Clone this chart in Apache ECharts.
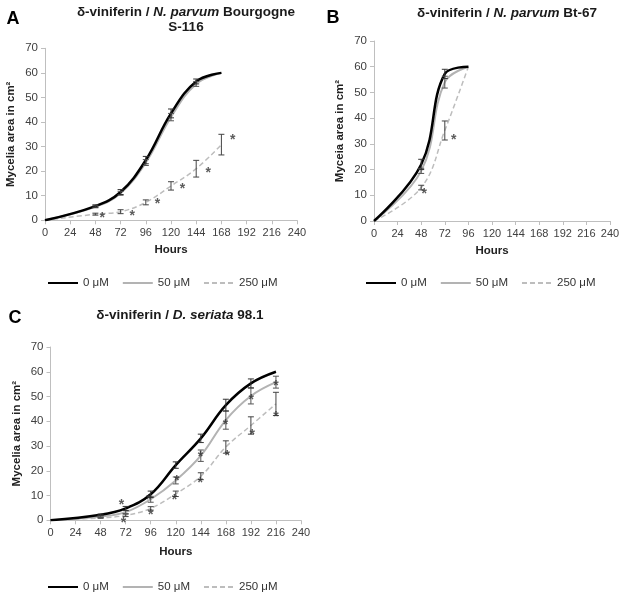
<!DOCTYPE html>
<html><head><meta charset="utf-8">
<script src="https://cdn.jsdelivr.net/npm/echarts@6/dist/echarts.min.js"></script>
<style>html,body{margin:0;padding:0;background:#fff}#c{width:634px;height:603px}</style>
</head><body><div id="c"></div>
<script>
// ---------- data ----------
const hoursTicks = [0,24,48,72,96,120,144,168,192,216,240];
const legendNames = ['0 μM','50 μM','250 μM'];

const hoursA = [0,48,72,96,120,144,168];
const a0   = [0,5.8,11.5,24.5,43.5,56.5,60];
const a50  = [0,5.5,11.0,23.5,42.0,55.5,60];
const a250 = [0,2.5,3.5,7.3,14.0,21.0,30.8];
const a0Err   = [0,0.5,1.0,1.5,1.8,1.0,0];
const a50Err  = [0,0.4,0.8,1.2,1.5,1.0,0];
const a250Err = [0,0.4,0.8,1.0,1.7,3.4,4.2];
const starA = [[54.6,1.9],[83,2.8],[107,7.6],[131,14.1],[155.5,20.5],[178.7,33.9]];

const hoursB = [0,48,72,96];
const b0   = [0,22.0,57.2,60];
const b50  = [0,19.5,54.0,60];
const b250 = [0,13.0,35.2,60];
const b0Err   = [0,2.0,1.8,0];
const b50Err  = [0,1.0,2.3,0];
const b250Err = [0,0.9,3.7,0];
const starB = [[51,11.8],[81,32.6]];

const hoursC = [0,48,72,96,120,144,168,192,216];
const c0   = [0,2.2,4.8,10.5,22.3,33.1,46.5,55.3,60];
const c50  = [0,1.5,3.3,8.5,16.1,26.1,40.5,50.2,55.8];
const c250 = [0,1.0,2.0,4.8,10.7,17.8,29.6,38.3,47.0];
const c0Err   = [0,0.3,0.8,1.3,1.3,1.7,2.4,1.8,0];
const c50Err  = [0,0.3,0.6,1.2,1.4,2.3,3.7,3.2,2.4];
const c250Err = [0,0.2,0.5,0.7,1.1,1.4,2.5,3.5,4.7];
const starC = [[46,-0.8],[68,7.3],[70,0.1],[94,9.3],[96,3.1],[121,17],[118.7,9.5],
               [143.6,26.9],[143.5,16.3],[167.7,39.8],[169.3,27.0],[192.2,49.9],[193.2,35.8],[216,55.3],[216,42.9]];

// ---------- helpers ----------
const FONT = 'Liberation Sans, Arial, sans-serif';
const axisCol = '#bfbfbf', labCol = '#404040';
function pairs(xs, ys){ return xs.map((x,i)=>[x,ys[i]]); }
function errData(xs, ys, es){ const o=[]; xs.forEach((x,i)=>{ if(es[i]>0) o.push([x, ys[i]-es[i], ys[i]+es[i]]); }); return o; }

function xAx(gi,gap){ return {gridIndex:gi,type:'value',min:0,max:240,interval:24,
  name:'Hours',nameLocation:'middle',nameGap:gap,
  nameTextStyle:{fontFamily:FONT,fontSize:11.5,fontWeight:'bold',color:'#222'},
  axisLine:{lineStyle:{color:axisCol}},axisTick:{show:true,length:4,lineStyle:{color:axisCol}},
  splitLine:{show:false},axisLabel:{fontFamily:FONT,fontSize:11,color:labCol,margin:7}}; }
function yAx(gi,name){ return {gridIndex:gi,type:'value',min:0,max:70,interval:10,
  name:name,nameLocation:'middle',nameGap:28,nameRotate:90,
  nameTextStyle:{fontFamily:FONT,fontSize:11.5,fontWeight:'bold',color:'#222'},
  axisLine:{show:true,lineStyle:{color:axisCol}},axisTick:{show:true,length:4,lineStyle:{color:axisCol}},
  splitLine:{show:false},axisLabel:{fontFamily:FONT,fontSize:11.5,color:labCol,margin:7}}; }

function lineSeries(gi,name,xs,ys){
  const st = {'0 μM':{color:'#000',width:2.5,type:'solid'},'50 μM':{color:'#b3b3b3',width:2,type:'solid'},'250 μM':{color:'#bdbdbd',width:1.5,type:[5,3]}}[name];
  return {type:'line',name:name,xAxisIndex:gi,yAxisIndex:gi,data:pairs(xs,ys),smooth:0.4,symbol:'none',
    lineStyle:{color:st.color,width:st.width,type:st.type},itemStyle:{color:st.color},z:name==='0 μM'?4:3};
}
function errSeries(gi,xs,ys,es,col){
  return {type:'custom',xAxisIndex:gi,yAxisIndex:gi,data:errData(xs,ys,es),z:5,
    renderItem:function(params,api){
      const x=api.value(0), lo=api.coord([x,api.value(1)]), hi=api.coord([x,api.value(2)]);
      const cw=3, s={stroke:col,lineWidth:1};
      return {type:'group',children:[
        {type:'line',shape:{x1:lo[0],y1:lo[1],x2:hi[0],y2:hi[1]},style:s},
        {type:'line',shape:{x1:lo[0]-cw,y1:lo[1],x2:lo[0]+cw,y2:lo[1]},style:s},
        {type:'line',shape:{x1:hi[0]-cw,y1:hi[1],x2:hi[0]+cw,y2:hi[1]},style:s}]};
    }};
}
function starSeries(gi,pts){
  return {type:'scatter',xAxisIndex:gi,yAxisIndex:gi,data:pts,symbolSize:1,itemStyle:{color:'rgba(0,0,0,0)'},z:6,silent:true,
    label:{show:true,position:'inside',formatter:'*',fontFamily:FONT,fontSize:14,fontWeight:'bold',color:'#333',offset:[0,3]}};
}
function legend(left,top){
  return {data:legendNames,left:left,top:top,itemWidth:30,itemHeight:10,itemGap:13,
    itemStyle:{opacity:0},
    textStyle:{fontFamily:FONT,fontSize:11.5,color:'#333'},selectedMode:false};
}

const series = [];
[[0,hoursA,a0,a50,a250,a0Err,a50Err,a250Err,starA],
 [1,hoursB,b0,b50,b250,b0Err,b50Err,b250Err,starB],
 [2,hoursC,c0,c50,c250,c0Err,c50Err,c250Err,starC]].forEach(p=>{
  const [gi,xs,y0,y50,y250,e0,e50,e250,st]=p;
  series.push(lineSeries(gi,'250 μM',xs,y250));
  series.push(lineSeries(gi,'50 μM',xs,y50));
  series.push(lineSeries(gi,'0 μM',xs,y0));
  series.push(errSeries(gi,xs,y250,e250,'#444'));
  series.push(errSeries(gi,xs,y50,e50,'#555'));
  series.push(errSeries(gi,xs,y0,e0,'#333'));
  series.push(starSeries(gi,st));
});

function richTitle(x,y,parts){
  return {type:'text',x:x,y:y,style:{text:parts.map(p=>'{'+p[0]+'|'+p[1]+'}').join(''),
    rich:{b:{fontFamily:FONT,fontSize:13.5,fontWeight:'bold',fill:'#1a1a1a'},i:{fontFamily:FONT,fontSize:13.5,fontWeight:'bold',fontStyle:'italic',fill:'#1a1a1a'}},
    align:'center',verticalAlign:'middle'}};
}
function panelLabel(x,y,t){ return {type:'text',x:x,y:y,style:{text:t,fontFamily:FONT,fontSize:18,fontWeight:'bold',fill:'#000',align:'center',verticalAlign:'middle'}}; }

const option = {
  backgroundColor:'#fff', animation:false,
  grid:[{left:45,top:48.3,width:252,height:172,containLabel:false},
        {left:374,top:41,width:236,height:180,containLabel:false},
        {left:50.5,top:347,width:250.5,height:173.3,containLabel:false}],
  xAxis:[xAx(0,24),xAx(1,24),xAx(2,26)],
  yAxis:[yAx(0,'Mycelia area in cm²'),yAx(1,'Myceia area in cm²'),yAx(2,'Mycelia area in cm²')],
  legend:[legend(42,272),legend(360,272),legend(42,576)],
  series:series,
  graphic:[
    panelLabel(13,19,'A'),panelLabel(333,18,'B'),panelLabel(15,318,'C'),
    richTitle(186,12,[['b','δ-viniferin / '],['i','N. parvum'],['b',' Bourgogne']]),
    richTitle(186,27,[['b','S-116']]),
    richTitle(507,13,[['b','δ-viniferin / '],['i','N. parvum'],['b',' Bt-67']]),
    richTitle(180,315,[['b','δ-viniferin / '],['i','D. seriata'],['b',' 98.1']])
  ]
};
const chart = echarts.init(document.getElementById('c'),null,{renderer:'canvas'});
chart.setOption(option);
</script></body></html>
